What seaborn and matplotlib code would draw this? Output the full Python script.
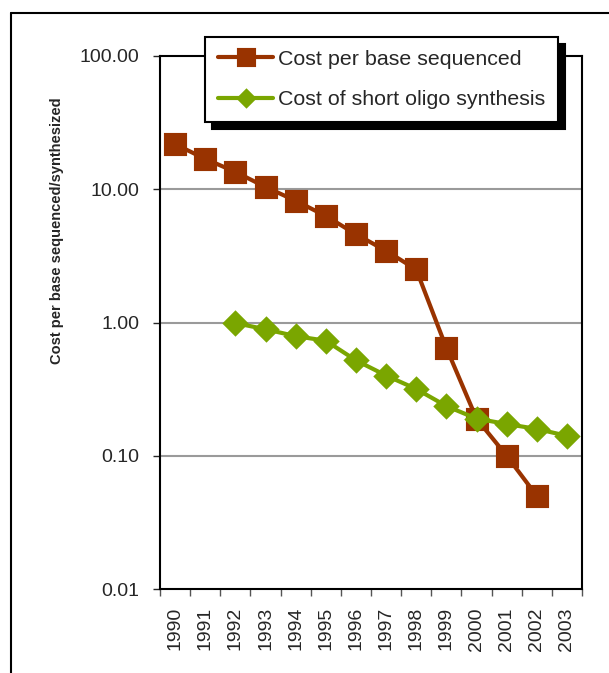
import numpy as np
import pandas as pd
import matplotlib
matplotlib.use("Agg")
import matplotlib.pyplot as plt
from matplotlib.lines import Line2D
from matplotlib.ticker import FixedLocator, FuncFormatter, NullLocator
import seaborn as sns

sns.set_style("ticks")
plt.rcParams['font.family'] = ['Liberation Sans', 'DejaVu Sans']

# values
years = [str(y) for y in range(1990, 2004)]
seq_cost = [21.8, 16.9, 13.5, 10.4, 8.2, 6.3, 4.6, 3.45, 2.5, 0.645, 0.19, 0.10, 0.05, np.nan]
oligo_cost = [np.nan, np.nan, 0.99, 0.89, 0.79, 0.73, 0.52, 0.40, 0.317, 0.236, 0.19, 0.173, 0.159, 0.141]
seq_label = "Cost per base sequenced"
oligo_label = "Cost of short oligo synthesis"
ytick_vals = [0.01, 0.1, 1, 10, 100]

RED = '#993300'
GREEN = '#7AA600'

seq_df = pd.DataFrame({'year': years, 'cost': seq_cost}).dropna()
oligo_df = pd.DataFrame({'year': years, 'cost': oligo_cost}).dropna()

W, H = 609, 673
fig = plt.figure(figsize=(W / 100, H / 100), dpi=100)
ax = fig.add_axes([160 / W, 1 - 589 / H, 422 / W, 533 / H])
ax.set_yscale('log')

sns.pointplot(data=seq_df, x='year', y='cost', order=years, color=RED, marker='s',
              markersize=15, linewidth=3, errorbar=None, label=seq_label, ax=ax)
sns.pointplot(data=oligo_df, x='year', y='cost', order=years, color=GREEN, marker='D',
              markersize=11, linewidth=3, errorbar=None, label=oligo_label, ax=ax)

ax.set_ylim(0.01, 100)
ax.yaxis.set_major_locator(FixedLocator(ytick_vals))
ax.yaxis.set_minor_locator(NullLocator())
ax.yaxis.set_major_formatter(FuncFormatter(lambda v, p: f"{v:.2f}"))
for v in ytick_vals[1:-1]:
    ax.axhline(v, color='#9a9a9a', lw=1.5, zorder=0)

ax.set_xlim(-0.5, len(years) - 0.5)
ax.set_xticks(range(len(years)))
ax.set_xticklabels(years, rotation=90)
ax.xaxis.set_minor_locator(FixedLocator(np.arange(-0.5, len(years))))
ax.tick_params(axis='x', which='major', length=0, pad=13, labelsize=14)
ax.tick_params(axis='x', which='minor', length=5, width=1, color='#555555')
ax.tick_params(axis='y', which='major', length=5, width=1, pad=10, labelsize=14)
ax.set_xlabel("")
ax.set_ylabel("")
for s in ax.spines.values():
    s.set_visible(True)
    s.set_color('black')
    s.set_linewidth(1.5)

fig.text(57 / W, 1 - 231 / H, "Cost per base sequenced/synthesized", rotation=90,
         ha='center', va='center', fontsize=10.5, fontweight='bold')

leg = ax.legend(loc='upper left', bbox_to_anchor=(205 / W, 1 - 37 / H),
                bbox_transform=fig.transFigure, borderaxespad=0, fancybox=False,
                framealpha=1, edgecolor='black', fontsize=15.4, handlelength=2.6,
                handletextpad=0.2, labelspacing=1.0, borderpad=0.6, markerscale=0.75,
                shadow={'color': 'black', 'alpha': 1, 'ox': 5, 'oy': -5})
leg.get_frame().set_linewidth(1.5)
leg.set_zorder(10)

# outer frame (only top and left edges visible in the original)
fig.add_artist(Line2D([11 / W, 1], [1 - 13 / H, 1 - 13 / H], color='black', lw=1.5,
                      transform=fig.transFigure))
fig.add_artist(Line2D([11 / W, 11 / W], [0, 1 - 13 / H], color='black', lw=1.5,
                      transform=fig.transFigure))

fig.savefig("out.png", dpi=100)
